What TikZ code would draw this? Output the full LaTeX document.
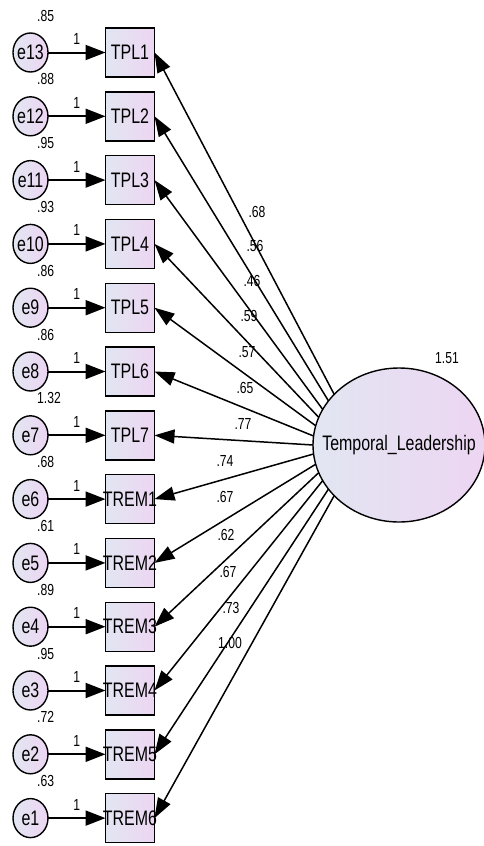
\documentclass[tikz,border=0pt]{standalone}
\usepackage{fontspec}
\setmainfont{Liberation Sans}[FakeStretch=0.76]
\usetikzlibrary{arrows.meta,shapes.geometric}

\definecolor{fillL}{RGB}{226,230,242}
\definecolor{fillR}{RGB}{237,213,242}

\begin{document}
\begin{tikzpicture}[
        x=1pt, y=-1pt,
        obs/.style={draw, line width=1.4pt, rectangle, minimum width=49pt, minimum height=49pt,
            inner xsep=-4pt, inner ysep=0pt, outer sep=0pt, left color=fillL, right color=fillR,
            font=\fontsize{21}{21}\selectfont},
        err/.style={draw, line width=1.4pt, ellipse, minimum width=35pt, minimum height=39pt,
            inner xsep=-3pt, inner ysep=0pt, outer sep=0pt, left color=fillL, right color=fillR,
            font=\fontsize{21}{21}\selectfont},
        lat/.style={draw, line width=1.4pt, ellipse, minimum width=172pt, minimum height=154pt,
            inner xsep=-20pt, inner ysep=0pt, outer sep=0pt, left color=fillL, right color=fillR,
            font=\fontsize{21}{21}\selectfont},
        num/.style={inner sep=0pt, font=\fontsize{16}{16}\selectfont},
        errarrow/.style={line width=2pt, -{Triangle[length=20pt,width=15pt]}},
        loadarrow/.style={line width=1.5pt, -{Triangle[length=20pt,width=14pt]}},
    ]
        \useasboundingbox (0,0) rectangle (484,846);

        % Latent factor
        \node[lat] (TL) at (399,445) {Temporal\_Leadership};
        \node[num] (varTL) at (447,358) {1.51};

        % Observed indicators
        \node[obs] (TPL1) at (130,52.5) {TPL1};
        \node[obs] (TPL2) at (130,116.3) {TPL2};
        \node[obs] (TPL3) at (130,180.1) {TPL3};
        \node[obs] (TPL4) at (130,243.9) {TPL4};
        \node[obs] (TPL5) at (130,307.7) {TPL5};
        \node[obs] (TPL6) at (130,371.5) {TPL6};
        \node[obs] (TPL7) at (130,435.3) {TPL7};
        \node[obs] (TREM1) at (130,499.1) {TREM1};
        \node[obs] (TREM2) at (130,562.9) {TREM2};
        \node[obs] (TREM3) at (130,626.7) {TREM3};
        \node[obs] (TREM4) at (130,690.5) {TREM4};
        \node[obs] (TREM5) at (130,754.3) {TREM5};
        \node[obs] (TREM6) at (130,818.1) {TREM6};

        % Error terms
        \node[err] (e13) at (30.5,52.5) {e13};
        \node[err] (e12) at (30.5,116.3) {e12};
        \node[err] (e11) at (30.5,180.1) {e11};
        \node[err] (e10) at (30.5,243.9) {e10};
        \node[err] (e9) at (30.5,307.7) {e9};
        \node[err] (e8) at (30.5,371.5) {e8};
        \node[err] (e7) at (30.5,435.3) {e7};
        \node[err] (e6) at (30.5,499.1) {e6};
        \node[err] (e5) at (30.5,562.9) {e5};
        \node[err] (e4) at (30.5,626.7) {e4};
        \node[err] (e3) at (30.5,690.5) {e3};
        \node[err] (e2) at (30.5,754.3) {e2};
        \node[err] (e1) at (30.5,818.1) {e1};

        % Error variances
        \node[num, anchor=west] (v13) at (37,15.5) {.85};
        \node[num, anchor=west] (v12) at (37,79.3) {.88};
        \node[num, anchor=west] (v11) at (37,143.1) {.95};
        \node[num, anchor=west] (v10) at (37,206.9) {.93};
        \node[num, anchor=west] (v9) at (37,270.7) {.86};
        \node[num, anchor=west] (v8) at (37,334.5) {.86};
        \node[num, anchor=west] (v7) at (37,398.3) {1.32};
        \node[num, anchor=west] (v6) at (37,462.1) {.68};
        \node[num, anchor=west] (v5) at (37,525.9) {.61};
        \node[num, anchor=west] (v4) at (37,589.7) {.89};
        \node[num, anchor=west] (v3) at (37,653.5) {.95};
        \node[num, anchor=west] (v2) at (37,717.3) {.72};
        \node[num, anchor=west] (v1) at (37,781.1) {.63};

        % Error paths (fixed to 1)
        \draw[errarrow] (e13) -- (TPL1) node[num, midway, above=7pt] (f13) {1};
        \draw[errarrow] (e12) -- (TPL2) node[num, midway, above=7pt] (f12) {1};
        \draw[errarrow] (e11) -- (TPL3) node[num, midway, above=7pt] (f11) {1};
        \draw[errarrow] (e10) -- (TPL4) node[num, midway, above=7pt] (f10) {1};
        \draw[errarrow] (e9) -- (TPL5) node[num, midway, above=7pt] (f9) {1};
        \draw[errarrow] (e8) -- (TPL6) node[num, midway, above=7pt] (f8) {1};
        \draw[errarrow] (e7) -- (TPL7) node[num, midway, above=7pt] (f7) {1};
        \draw[errarrow] (e6) -- (TREM1) node[num, midway, above=7pt] (f6) {1};
        \draw[errarrow] (e5) -- (TREM2) node[num, midway, above=7pt] (f5) {1};
        \draw[errarrow] (e4) -- (TREM3) node[num, midway, above=7pt] (f4) {1};
        \draw[errarrow] (e3) -- (TREM4) node[num, midway, above=7pt] (f3) {1};
        \draw[errarrow] (e2) -- (TREM5) node[num, midway, above=7pt] (f2) {1};
        \draw[errarrow] (e1) -- (TREM6) node[num, midway, above=7pt] (f1) {1};

        % Factor loadings
        \draw[loadarrow] (TL.142) -- (TPL1.east);
        \draw[loadarrow] (TL.148) -- (TPL2.east);
        \draw[loadarrow] (TL.155) -- (TPL3.east);
        \draw[loadarrow] (TL.161) -- (TPL4.east);
        \draw[loadarrow] (TL.167) -- (TPL5.east);
        \draw[loadarrow] (TL.174) -- (TPL6.east);
        \draw[loadarrow] (TL.180) -- (TPL7.east);
        \draw[loadarrow] (TL.186) -- (TREM1.east);
        \draw[loadarrow] (TL.193) -- (TREM2.east);
        \draw[loadarrow] (TL.199) -- (TREM3.east);
        \draw[loadarrow] (TL.205) -- (TREM4.east);
        \draw[loadarrow] (TL.212) -- (TREM5.east);
        \draw[loadarrow] (TL.218) -- (TREM6.east);

        % Loading estimates
        \node[num] (l1) at (257,212) {.68};
        \node[num] (l2) at (255,246) {.56};
        \node[num] (l3) at (252,281) {.46};
        \node[num] (l4) at (249,316) {.59};
        \node[num] (l5) at (247,352) {.57};
        \node[num] (l6) at (245,388) {.65};
        \node[num] (l7) at (243,424) {.77};
        \node[num] (l8) at (225,461) {.74};
        \node[num] (l9) at (225,497) {.67};
        \node[num] (l10) at (226,535) {.62};
        \node[num] (l11) at (228,572) {.67};
        \node[num] (l12) at (231,608) {.73};
        \node[num] (l13) at (230,643) {1.00};
    \end{tikzpicture}
\end{document}
